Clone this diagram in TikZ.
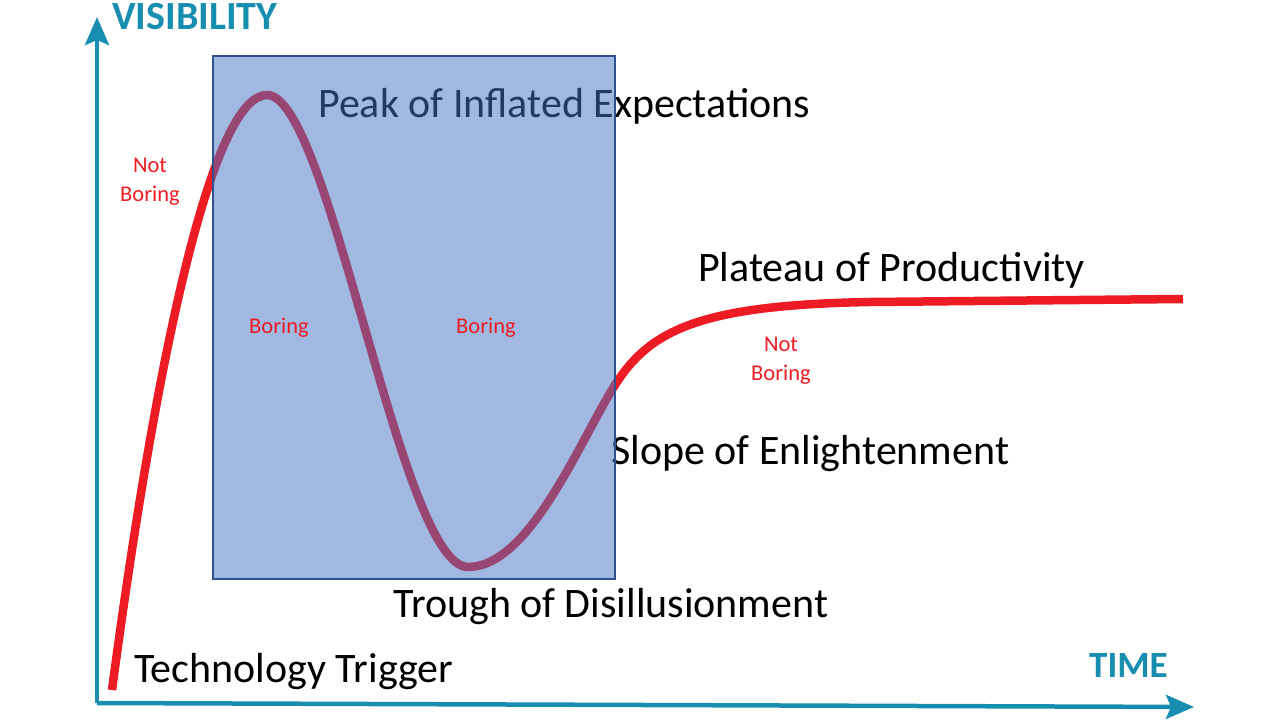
\documentclass[tikz,border=0pt]{standalone}
\usepackage{fontspec}
\setmainfont{Carlito}
\usetikzlibrary{arrows.meta}

\definecolor{axisteal}{RGB}{23,142,176}
\definecolor{hypered}{RGB}{237,28,36}
\definecolor{boxblue}{RGB}{68,114,196}
\definecolor{boxedge}{RGB}{47,82,143}

\begin{document}
\begin{tikzpicture}[x=1pt,y=-1pt,
        axis/.style={axisteal,line width=4.5pt,-{Stealth[length=28pt,width=24pt,inset=5pt]}},
        axislabel/.style={axisteal,font=\fontsize{40}{48}\selectfont\bfseries,inner sep=0pt,anchor=base west},
        phase/.style={black,font=\fontsize{42}{50}\selectfont,inner sep=0pt,anchor=base west},
        remark/.style={hypered,font=\fontsize{22.5}{29}\selectfont,inner sep=0pt,align=center,anchor=base}]
                \useasboundingbox (0,0) rectangle (1280,720);
                % axes
                \coordinate (origin) at (97,703);
                \coordinate (vtop) at (97,17);
                \coordinate (hend) at (1194,707);
                \draw[axis] (origin) -- (vtop);
                \draw[axis] (origin) -- (hend);
                \node[axislabel] (visibility) at (112,29) {VISIBILITY};
                \node[axislabel,font=\fontsize{37}{44}\selectfont\bfseries] (time) at (1089,677) {TIME};
                % hype curve
                \draw[hypered,line width=8.5pt] (112,690) .. controls (160,330) and (215,95) .. (267,95)
                    .. controls (330,95) and (400,567) .. (468,567)
                    .. controls (530,567) and (580,440) .. (615,385)
                    .. controls (650,330) and (700,305) .. (870,302) -- (1183,299);
                \node[phase] (peak) at (318,117) {Peak of Inflated Expectations};
                \node[phase] (plateau) at (698,281) {Plateau of Productivity};
                \node[phase] (slope) at (611,464) {Slope of Enlightenment};
                \node[phase] (trough) at (393,617) {Trough of Disillusionment};
                \node[phase] (trigger) at (134,682) {Technology Trigger};
                % the boring part
                \filldraw[fill=boxblue,fill opacity=0.5,draw=boxedge,line width=1.3pt] (213,56) rectangle (615,579);
                \node[remark] (notboringA) at (150,201) {Not\\Boring};
                \node[remark] (boringA) at (279,333) {Boring};
                \node[remark] (boringB) at (486,333) {Boring};
                \node[remark] (notboringB) at (781,380) {Not\\Boring};
            \end{tikzpicture}
\end{document}
